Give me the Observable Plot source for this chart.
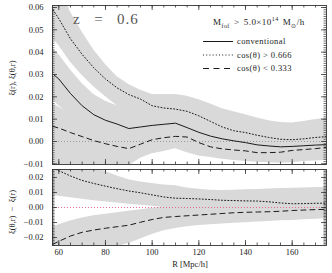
<!DOCTYPE html>
<html><head><meta charset="utf-8">
<script src="https://cdn.jsdelivr.net/npm/d3@7"></script>
<script src="https://cdn.jsdelivr.net/npm/@observablehq/plot@0.6"></script>
<style>
body{margin:0;background:#fff;}
#wrap{position:relative;width:332px;height:273px;font-family:"Liberation Serif",serif;color:#222;overflow:hidden}
#wrap > svg{position:absolute;left:0}
.t{position:absolute;white-space:nowrap;line-height:1;font-size:9px}
.rot{position:absolute;white-space:nowrap;line-height:1;font-size:9px;transform:translate(-50%,-50%) rotate(-90deg)}
sub,sup{font-size:6px;line-height:0}
</style></head><body><div id="wrap"></div><script>
// ---- data ----
const R = [57.5,60,65,70,75,80,85,90,95,100,105,110,115,120,125,130,135,140,145,150,155,160,165,170,175];
// top panel curves
const conv  = [0.0302,0.0280,0.0215,0.0160,0.0120,0.0095,0.0078,0.0058,0.0065,0.0072,0.0077,0.0082,0.0062,0.0041,0.0024,0.0012,0.0003,-0.0005,-0.0015,-0.0020,-0.0024,-0.0022,-0.0019,-0.0016,-0.0014];
const cosHi = [0.059,0.055,0.046,0.039,0.033,0.028,0.024,0.021,0.019,0.016,0.0150,0.0145,0.0135,0.0115,0.0090,0.0065,0.0048,0.0040,0.0028,0.0018,0.0010,0.0008,0.0012,0.0018,0.0022];
const cosLo = [0.0068,0.0060,0.0040,0.0022,0.0004,-0.0010,-0.0022,-0.0032,-0.0012,0.0008,0.0017,0.0023,0.0020,-0.0005,-0.0024,-0.0033,-0.0038,-0.0042,-0.0050,-0.0050,-0.0048,-0.0040,-0.0036,-0.0032,-0.0026];
// top panel error bands
const hi1 = [0.074,0.069,0.058,0.049,0.041,0.0345,0.029,0.0255,0.023,0.021,0.021,0.021,0.0203,0.0187,0.0168,0.0147,0.0133,0.012,0.0105,0.0093,0.0085,0.0083,0.009,0.0098,0.0104];
const lo1 = [0.046,0.043,0.0355,0.0295,0.0245,0.020,0.016,0.013,0.011,0.009,0.008,0.007,0.006,0.004,0.002,0.000,-0.001,-0.0015,-0.002,-0.0025,-0.003,-0.003,-0.003,-0.003,-0.003];
const hi2 = [0.0415,0.039,0.032,0.026,0.021,0.018,0.016,0.0145,0.015,0.0155,0.016,0.0165,0.0145,0.012,0.010,0.0085,0.0075,0.0065,0.0055,0.005,0.0045,0.0045,0.0045,0.0045,0.0048];
const lo2 = [0.0185,0.016,0.0115,0.008,0.004,0.001,-0.002,-0.004,-0.003,-0.002,-0.001,-0.0005,-0.0018,-0.0036,-0.0052,-0.006,-0.0067,-0.0072,-0.008,-0.0085,-0.0088,-0.0086,-0.0082,-0.008,-0.0078];
const hi3 = [0.017,0.0155,0.0125,0.010,0.008,0.0065,0.005,0.004,0.004,0.005,0.007,0.008,0.008,0.006,0.003,0.001,0.0,-0.0005,-0.001,-0.0012,-0.001,-0.0005,0.0,0.0005,0.001];
const lo3 = [-0.014,-0.014,-0.014,-0.014,-0.014,-0.013,-0.012,-0.011,-0.0075,-0.0055,-0.0045,-0.0032,-0.005,-0.0065,-0.0072,-0.008,-0.0085,-0.009,-0.0093,-0.0095,-0.0097,-0.0095,-0.009,-0.0087,-0.0085];
// bottom panel curves
const dHi = [0.0262,0.0245,0.021,0.018,0.016,0.0142,0.0125,0.011,0.0098,0.0084,0.0070,0.0062,0.0060,0.0057,0.0053,0.0048,0.0046,0.0044,0.0043,0.0038,0.0030,0.0025,0.0026,0.0028,0.0029];
const dLo = [-0.0245,-0.0225,-0.019,-0.0165,-0.015,-0.0138,-0.0128,-0.0118,-0.0098,-0.0080,-0.0066,-0.0060,-0.0055,-0.0050,-0.0045,-0.0040,-0.0035,-0.0032,-0.0030,-0.0028,-0.0025,-0.0020,-0.0017,-0.0014,-0.0012];
// bottom panel error bands
const hiA = [0.045,0.042,0.036,0.031,0.027,0.024,0.021,0.0185,0.017,0.016,0.015,0.0145,0.013,0.0122,0.0115,0.0113,0.0115,0.0118,0.012,0.0123,0.0126,0.0128,0.013,0.0133,0.0135];
const loA = [0.008,0.0075,0.0065,0.0055,0.0045,0.0037,0.003,0.0022,0.0015,0.0008,0.0,-0.0008,-0.0015,-0.002,-0.0025,-0.003,-0.0035,-0.0038,-0.004,-0.0042,-0.0045,-0.0048,-0.005,-0.005,-0.005];
const hiB = [-0.013,-0.0115,-0.009,-0.007,-0.0055,-0.0045,-0.0035,-0.0025,-0.0015,-0.0005,0.0003,0.001,0.0015,0.002,0.0025,0.003,0.0033,0.0035,0.0037,0.004,0.0042,0.0045,0.0048,0.005,0.0052];
const loB = [-0.04,-0.038,-0.034,-0.031,-0.029,-0.027,-0.026,-0.024,-0.021,-0.018,-0.0155,-0.014,-0.0128,-0.012,-0.0115,-0.011,-0.0105,-0.0101,-0.0097,-0.0093,-0.0089,-0.0086,-0.0082,-0.0078,-0.0075];
// ticks
const xMajor = [60,80,100,120,140,160];
const yMajorTop = [-0.01,0.00,0.01,0.02,0.03,0.04,0.05,0.06];
const yMajorBot = [-0.02,-0.01,0.00,0.01,0.02];
const legendLabels = ["conventional","cos(θ) > 0.666","cos(θ) < 0.333"];

const topRows = R.map((r,i)=>({r, conv:conv[i], hi:cosHi[i], lo:cosLo[i], hi1:hi1[i], lo1:lo1[i], hi2:hi2[i], lo2:lo2[i], hi3:hi3[i], lo3:lo3[i]}));
const botRows = R.map((r,i)=>({r, hi:dHi[i], lo:dLo[i], hiA:hiA[i], loA:loA[i], hiB:hiB[i], loB:loB[i]}));

const W = 332, ML = 52, MR = 6, PW = W-ML-MR;
const GRAY = "#d9d9d9", INK = "#1a1a1a", AX = "#333";
const FONT = "Liberation Serif";
const xDomain = [57.3,174.7];
const xMinor = d3.range(60,175,5);

function yTicks(minor, major){
  return [
    Plot.tickY(minor,{stroke:AX,strokeWidth:0.7,insetRight:PW-2.5}),
    Plot.tickY(minor,{stroke:AX,strokeWidth:0.7,insetLeft:PW-2.5}),
    Plot.tickY(major,{stroke:AX,strokeWidth:0.8,insetRight:PW-5}),
    Plot.tickY(major,{stroke:AX,strokeWidth:0.8,insetLeft:PW-5})
  ];
}
function xTicks(PH){
  return [
    Plot.tickX(xMinor,{stroke:AX,strokeWidth:0.8,insetTop:PH-2.5}),
    Plot.tickX(xMinor,{stroke:AX,strokeWidth:0.8,insetBottom:PH-2.5}),
    Plot.tickX(xMajor,{stroke:AX,strokeWidth:0.8,insetTop:PH-5}),
    Plot.tickX(xMajor,{stroke:AX,strokeWidth:0.8,insetBottom:PH-5})
  ];
}

const topPlot = Plot.plot({
  width:W, height:171, marginLeft:ML, marginRight:MR, marginTop:5, marginBottom:7,
  style:{background:"transparent", fontFamily:FONT, overflow:"visible"},
  x:{domain:xDomain, axis:null},
  y:{domain:[-0.0103,0.0609]},
  marks:[
    Plot.areaY(topRows,{x:"r",y1:"lo1",y2:"hi1",fill:GRAY,clip:true}),
    Plot.areaY(topRows,{x:"r",y1:"lo2",y2:"hi2",fill:GRAY,clip:true}),
    Plot.areaY(topRows,{x:"r",y1:"lo3",y2:"hi3",fill:GRAY,clip:true}),
    Plot.ruleY([0],{stroke:"#8c8c8c",strokeWidth:0.8,strokeDasharray:"1,2"}),
    Plot.lineY(topRows,{x:"r",y:"conv",stroke:INK,strokeWidth:1,clip:true}),
    Plot.lineY(topRows,{x:"r",y:"hi",stroke:INK,strokeWidth:1,strokeDasharray:"1,2.2",clip:true}),
    Plot.lineY(topRows,{x:"r",y:"lo",stroke:INK,strokeWidth:1,strokeDasharray:"5,4",clip:true}),
    ...yTicks(d3.range(-0.010,0.0605,0.001), yMajorTop),
    ...xTicks(159),
    Plot.axisY(yMajorTop,{anchor:"left",tickSize:0,tickPadding:9,tickFormat:d3.format(".2f"),fontSize:8.5,fontFamily:FONT,label:null,fill:"#222"}),
    Plot.frame({stroke:AX,strokeWidth:0.9})
  ]
});

const botPlot = Plot.plot({
  width:W, height:107, marginLeft:ML, marginRight:MR, marginTop:3, marginBottom:28,
  style:{background:"transparent", fontFamily:FONT, overflow:"visible"},
  x:{domain:xDomain},
  y:{domain:[-0.0253,0.0253]},
  marks:[
    Plot.areaY(botRows,{x:"r",y1:"loA",y2:"hiA",fill:GRAY,clip:true}),
    Plot.areaY(botRows,{x:"r",y1:"loB",y2:"hiB",fill:GRAY,clip:true}),
    Plot.ruleY([0],{stroke:"#e0507a",strokeWidth:0.8,strokeDasharray:"1,2"}),
    Plot.lineY(botRows,{x:"r",y:"hi",stroke:INK,strokeWidth:1,strokeDasharray:"1,2.2",clip:true}),
    Plot.lineY(botRows,{x:"r",y:"lo",stroke:INK,strokeWidth:1,strokeDasharray:"5,4",clip:true}),
    ...yTicks(d3.range(-0.025,0.0255,0.001), yMajorBot),
    ...xTicks(76),
    Plot.axisY(yMajorBot,{anchor:"left",tickSize:0,tickPadding:9,tickFormat:d3.format(".2f"),fontSize:8.5,fontFamily:FONT,label:null,fill:"#222"}),
    Plot.axisX(xMajor,{anchor:"bottom",tickSize:0,tickPadding:3.5,fontSize:8.5,fontFamily:FONT,label:null,fill:"#222"}),
    Plot.frame({stroke:AX,strokeWidth:0.9})
  ]
});

const wrap = document.getElementById("wrap");
topPlot.style.top = "0px";
botPlot.style.top = "166px";
wrap.appendChild(topPlot);
wrap.appendChild(botPlot);

// legend samples
const ns = "http://www.w3.org/2000/svg";
const lg = document.createElementNS(ns,"svg");
lg.setAttribute("width",W); lg.setAttribute("height",273);
lg.style.position="absolute"; lg.style.left="0"; lg.style.top="0"; lg.style.pointerEvents="none";
const dashes = [null,"1,2.2","6,4.5"];
[41.5,55,68.5].forEach((y,i)=>{
  const l = document.createElementNS(ns,"line");
  l.setAttribute("x1",203); l.setAttribute("x2",233); l.setAttribute("y1",y); l.setAttribute("y2",y);
  l.setAttribute("stroke",INK); l.setAttribute("stroke-width",1);
  if (dashes[i]) l.setAttribute("stroke-dasharray",dashes[i]);
  lg.appendChild(l);
});
wrap.appendChild(lg);

function addText(html, x, y, cls, extra){
  const d = document.createElement("div");
  d.className = cls; d.innerHTML = html;
  d.style.left = x+"px"; d.style.top = y+"px";
  if (extra) Object.assign(d.style, extra);
  wrap.appendChild(d);
  return d;
}
addText("z&nbsp;&nbsp;=&nbsp;&nbsp;0.6", 73, 12, "t", {fontSize:"15px", color:"#555", letterSpacing:"1px", wordSpacing:"2px"});
addText("M<sub>fof</sub> &gt; 5.0×10<sup>14</sup> M<sub>⊙</sub>/h", 213, 18, "t", {fontSize:"9px", letterSpacing:"0.45px", wordSpacing:"1.5px"});
legendLabels.forEach((s,i)=> addText(s, 237, [37,50.5,64][i], "t", {fontSize:"8.5px", letterSpacing:"0.4px"}));
addText("ξ(r), ξ(θ,r)", 12, 78, "rot", {fontSize:"8.5px"});
addText("ξ(θ,r) &nbsp;−&nbsp; ξ(r)", 12, 212, "rot", {fontSize:"8.5px"});
addText("R [Mpc/h]", 190, 264, "t", {fontSize:"8.5px", transform:"translate(-50%,-50%)"});
</script></body></html>
